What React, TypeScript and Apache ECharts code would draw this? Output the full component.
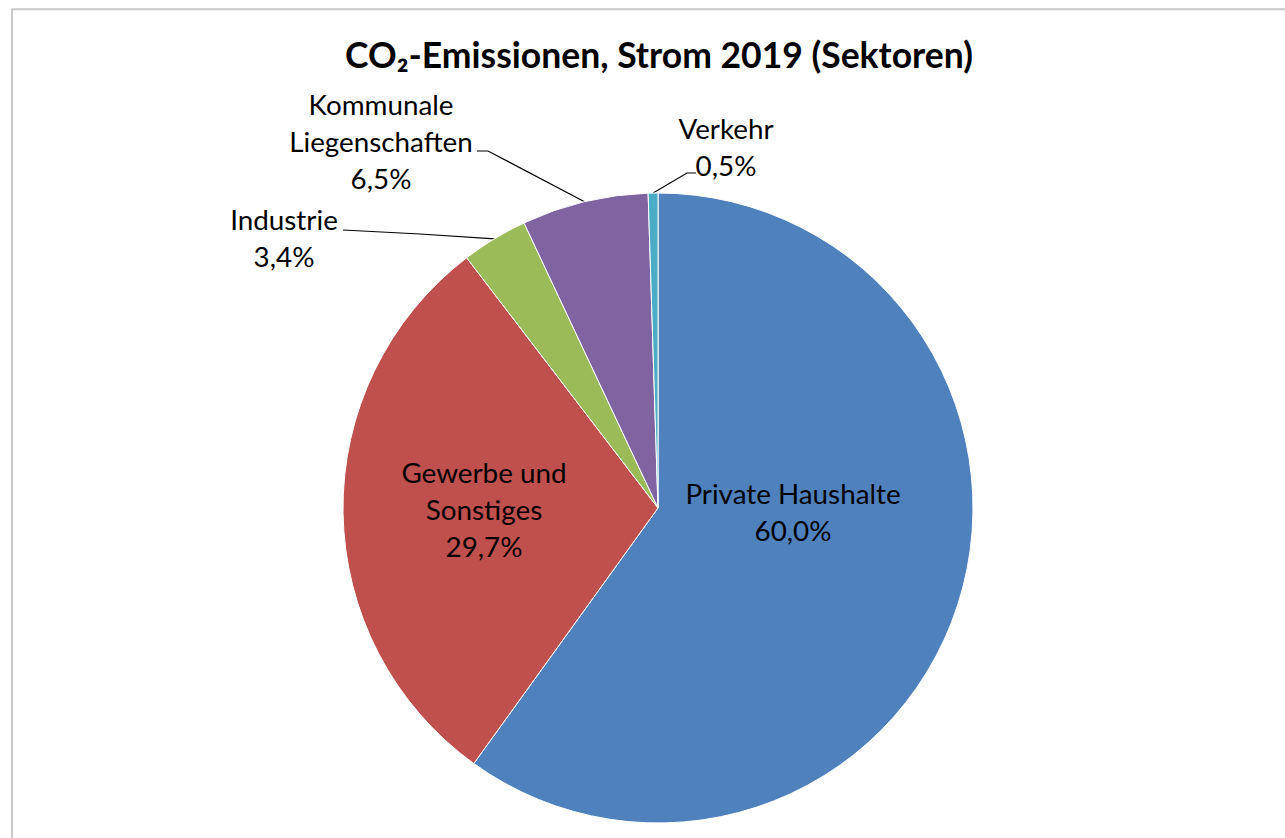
import React, { useEffect, useRef } from "react";
import * as echarts from "echarts";

const titleText = "CO\u2082-Emissionen, Strom 2019 (Sektoren)";
const categories = [
  "Private Haushalte",
  "Gewerbe und Sonstiges",
  "Industrie",
  "Kommunale Liegenschaften",
  "Verkehr",
];
const labelNames = [
  "Private Haushalte",
  "Gewerbe und\nSonstiges",
  "Industrie",
  "Kommunale\nLiegenschaften",
  "Verkehr",
];
const values = [60.0, 29.7, 3.4, 6.5, 0.5];
const colors = ["#4F81BD", "#C0504D", "#9BBB59", "#8064A2", "#4BACC6"];

// layout (pixel) settings
const W = 1285;
const H = 838;
const CENTER: [number, number] = [658, 508];
const RADIUS = 315;
const FONT = "Lato, 'Open Sans', sans-serif";
// label anchor centres, per slice
const labelAnchor: [number, number][] = [
  [793, 512],
  [484, 509],
  [284, 238],
  [381, 141],
  [726, 147],
];
// leader-line bends for outside labels (second & third points)
const leaderEnds: ([number, number][] | null)[] = [
  null,
  null,
  [[420, 234], [343, 230]],
  [[488, 151], [477, 151]],
  [[687, 173], [696, 173]],
];

function fmt(v: number) {
  return v.toFixed(1).replace(".", ",") + "%";
}

export default function App() {
  const ref = useRef<HTMLDivElement>(null);
  useEffect(() => {
    if (!ref.current) return;
    const chart = echarts.init(ref.current, undefined, { renderer: "svg" });
    const total = values.reduce((a, b) => a + b, 0);
    const data = categories.map((name, i) => ({
      name,
      value: values[i],
      itemStyle: { color: colors[i] },
      label: {
        show: true,
        position: i < 2 ? "inside" : "outside",
      },
      labelLine: { show: i >= 2 },
    }));
    chart.setOption({
      animation: false,
      backgroundColor: "#ffffff",
      title: {
        text: titleText,
        left: 654,
        textAlign: "center",
        top: 31,
        textStyle: {
          fontFamily: FONT,
          fontWeight: "bold",
          fontSize: 35.5,
          color: "#000000",
        },
      },
      graphic: [
        {
          type: "rect",
          shape: { x: 12, y: 9.3, width: 1400, height: 1000 },
          style: { fill: "none", stroke: "#c8c8c8", lineWidth: 2 },
          silent: true,
        },
      ],
      series: [
        {
          type: "pie",
          center: CENTER,
          radius: RADIUS,
          startAngle: 90,
          clockwise: true,
          avoidLabelOverlap: false,
          itemStyle: { borderColor: "#ffffff", borderWidth: 1 },
          label: {
            fontFamily: FONT,
            fontSize: 27.8,
            color: "#000000",
            lineHeight: 37,
            align: "center",
            formatter: (p: any) => labelNames[p.dataIndex] + "\n" + fmt(values[p.dataIndex]),
          },
          labelLine: {
            lineStyle: { color: "#000000", width: 1.2 },
            smooth: false,
          },
          labelLayout: (params: any) => {
            const i = params.dataIndex;
            const [x, y] = labelAnchor[i];
            const res: any = { x, y, align: "center", verticalAlign: "middle" };
            const ends = leaderEnds[i];
            if (ends) {
              let start = params.labelLinePoints && params.labelLinePoints[0];
              if (!start) {
                let before = 0;
                for (let k = 0; k < i; k++) before += values[k];
                const frac = (before + values[i] / 2) / total;
                const ang = Math.PI / 2 - frac * 2 * Math.PI;
                start = [CENTER[0] + RADIUS * Math.cos(ang), CENTER[1] - RADIUS * Math.sin(ang)];
              }
              res.labelLinePoints = [start, ends[0], ends[1]];
            }
            return res;
          },
          data,
        },
      ],
    });
    return () => chart.dispose();
  }, []);
  return (
    <div
      ref={ref}
      style={{ position: "fixed", left: 0, top: 0, width: W, height: H }}
    />
  );
}
